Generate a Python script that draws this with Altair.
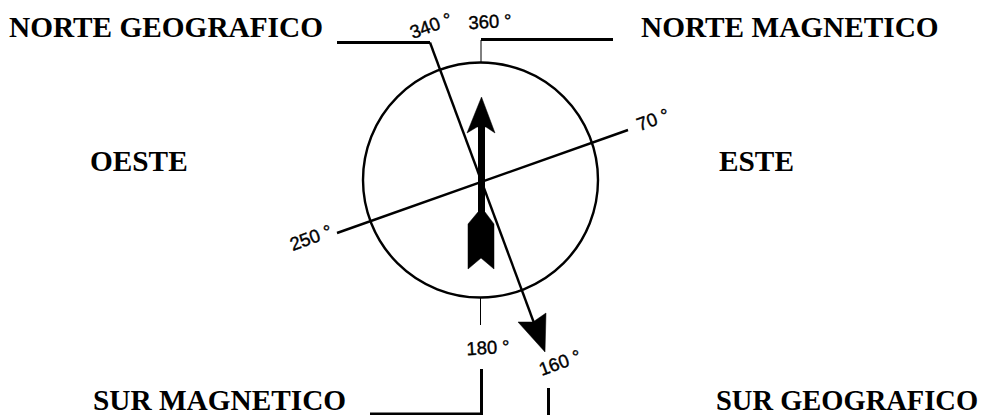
import altair as alt
import pandas as pd

# --- text labels (picture coordinates, baseline) ---
bold_text = ["NORTE GEOGRAFICO", "NORTE MAGNETICO", "OESTE", "ESTE", "SUR MAGNETICO"]
bold_x = [9, 641, 90, 719, 93]
bold_y = [37, 37, 171, 171, 410]

last_text = ["SUR GEOGRAFICO"]
last_x = [716]
last_y = [410]

deg_text = ["340 °", "360 °", "70 °", "250 °", "180 °", "160 °"]
deg_x = [431, 490, 653, 311, 488, 560]
deg_y = [26, 22, 120, 238, 348, 363]
deg_angle = [340, 357, 340, 340, 357, 340]

# --- circle ---
circle_x = [480.5]
circle_y = [180]

# --- polylines ---
thick_segments = {
    "leader_ng": ([337, 430], [42.5, 42.5]),
    "leader_nm": ([481, 613], [39.5, 39.5]),
    "low_h": ([370, 483], [414, 414]),
    "low_v": ([481.5, 481.5], [369, 414]),
    "low_v2": ([548.5, 548.5], [388, 415]),
}
medium_segments = {
    "geo": ([430, 534], [42.5, 323]),
    "mag": ([337, 628], [233, 130]),
}
thin_segments = {
    "nm_tick": ([481, 481], [40, 63]),
    "sm_tick": ([480.5, 480.5], [297, 325]),
}
shaft_x = [481.5, 481.5]
shaft_y = [125, 216]

polygons = {
    "head": ([481.5, 467, 477, 486, 495, 481.5], [97, 133, 127, 127, 133, 97]),
    "tail": ([478, 485, 494, 494, 481, 468, 468, 478], [212, 212, 224, 269, 258, 269, 224, 212]),
    "geo_head": ([518, 533, 546, 545, 518], [322, 322, 313, 352, 322]),
}


def seg_df(segs):
    rows = []
    for k, (xs, ys) in segs.items():
        for i, (a, b) in enumerate(zip(xs, ys)):
            rows.append({"id": k, "i": i, "x": a, "y": b})
    return pd.DataFrame(rows)


X = alt.X("x:Q", axis=None, scale=alt.Scale(domain=[8, 981], nice=False, zero=False))
Y = alt.Y("y:Q", axis=None, scale=alt.Scale(domain=[415, 8], nice=False, zero=False))


def lines(segs, w):
    return alt.Chart(seg_df(segs)).mark_line(color="black", strokeWidth=w, clip=True).encode(
        x=X, y=Y, detail="id:N", order="i:Q"
    )


circle = alt.Chart(pd.DataFrame({"x": circle_x, "y": circle_y})).mark_point(
    shape="circle", size=55225, filled=False, color="black", strokeWidth=2.4, opacity=1
).encode(x=X, y=Y)

shaft = alt.Chart(pd.DataFrame({"x": shaft_x, "y": shaft_y, "id": ["s", "s"], "i": [0, 1]})).mark_line(
    color="black", strokeWidth=7
).encode(x=X, y=Y, detail="id:N", order="i:Q")

fills = alt.Chart(seg_df(polygons)).mark_line(color="black", fill="black", strokeWidth=0.5).encode(
    x=X, y=Y, detail="id:N", order="i:Q"
)

bold = alt.Chart(pd.DataFrame({"x": bold_x, "y": bold_y, "t": bold_text})).mark_text(
    font="Liberation Serif", fontWeight="bold", fontSize=29.3, align="left", baseline="alphabetic", color="black"
).encode(x=X, y=Y, text="t:N")

last = alt.Chart(pd.DataFrame({"x": last_x, "y": last_y, "t": last_text})).mark_text(
    font="Liberation Serif", fontWeight="bold", fontSize=28.5, align="left", baseline="alphabetic", color="black"
).encode(x=X, y=Y, text="t:N")

deg_layers = [
    alt.Chart(pd.DataFrame({"x": [a], "y": [b], "t": [t]})).mark_text(
        font="Liberation Sans", fontSize=18.5, align="center", baseline="middle", color="black", angle=ang,
        stroke="black", strokeWidth=0.4
    ).encode(x=X, y=Y, text="t:N")
    for t, a, b, ang in zip(deg_text, deg_x, deg_y, deg_angle)
]

chart = alt.layer(lines(thick_segments, 3), lines(medium_segments, 2.4), lines(thin_segments, 1),
                  circle, shaft, fills, bold, last, *deg_layers).properties(
    width=973, height=407, padding=0, autosize=alt.AutoSizeParams(type="none"),
    background="white"
).configure_view(stroke=None)

chart.save("out.html", embed_options={"renderer": "svg", "actions": False})
